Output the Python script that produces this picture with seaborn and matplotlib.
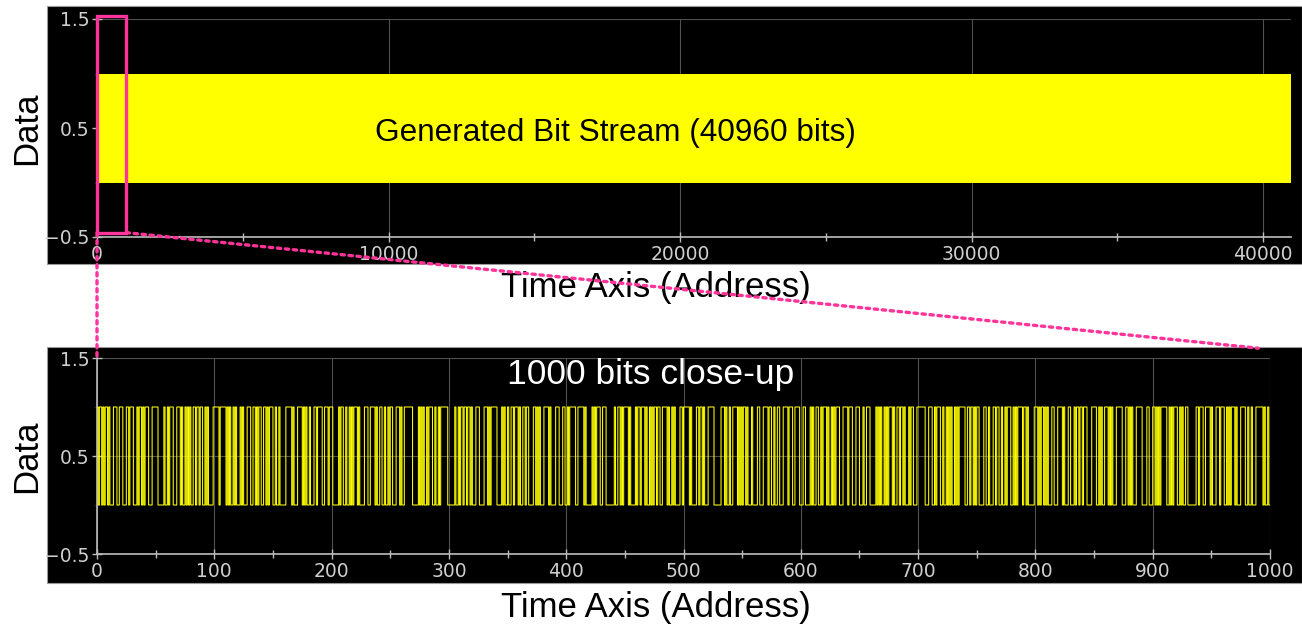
import numpy as np
import matplotlib
matplotlib.use("Agg")
import matplotlib.pyplot as plt
from matplotlib.patches import Rectangle, ConnectionPatch
from matplotlib.ticker import MultipleLocator
import seaborn as sns

sns.set_style("white")
plt.rcParams["font.family"] = ["Liberation Sans", "DejaVu Sans"]
plt.rcParams["text.color"] = "black"

# ---- data -------------------------------------------------------------
# full stream: at this scale every address carries both levels, so it is
# drawn as its low/high envelope
stream_x = [0, 40960]
stream_low = [0, 0]
stream_high = [1, 1]

# first 1000 bits of the stream, packed as hex nibbles
closeup_hex = (
    "B5A39C6E2D71F04B8E9536CA1F7D4A28E6B35C907D1EA46F3B"
    "82C95D0E7A64B1D3F82A5C97E04B6D1C3AF8526E9B0D47A1C6"
    "5F3E82B9C04D7A16E95B3D286FA1B47C0E93D5A218F64C7B9E"
    "30A65D2B8F71C4E0A95D368B1FC72E4A95F36B0C8D92E57B41"
    "D6A31E8C5B70F29D47C6A3E18D5F2B94C06E7A3B95D1E48FD2"
)
closeup_bits = [int(b) for h in closeup_hex for b in f"{int(h, 16):04b}"]

top_xticks = [0, 10000, 20000, 30000, 40000]
bottom_xticks = [0, 100, 200, 300, 400, 500, 600, 700, 800, 900, 1000]
yticks = [-0.5, 0.5, 1.5]
ytick_labels = ["\u22120.5", "0.5", "1.5"]

# ---- figure -----------------------------------------------------------
W, H = 1302, 626
fig = plt.figure(figsize=(W / 100, H / 100), dpi=100)
fig.patch.set_facecolor("white")

def fx(px):
    return px / W

def fy(py):
    return 1 - py / H

# black panels behind each plot (they hold the tick labels too)
for top_px, bot_px in [(6, 264), (347, 583)]:
    fig.add_artist(Rectangle((fx(47), fy(bot_px)), fx(W - 47), fy(top_px) - fy(bot_px),
                             transform=fig.transFigure, facecolor="black",
                             edgecolor="#9a9a9a", linewidth=0.8, zorder=-5))

ax1 = fig.add_axes([fx(97), fy(237), fx(1291 - 97), fy(19) - fy(237)])
ax2 = fig.add_axes([fx(97), fy(554), fx(1270 - 97), fy(358) - fy(554)])

YELLOW = "#ffff00"
AX_COL = "#bdbdbd"
GRID_COL = "#505050"
LABEL_COL = "#cfcfcf"

def style_axes(ax, xmax, minor, xticks):
    ax.set_facecolor("black")
    ax.set_xlim(0, xmax)
    ax.set_ylim(-0.5, 1.5)
    ax.set_xticks(xticks)
    ax.set_xticklabels([str(t) for t in xticks])
    ax.xaxis.set_minor_locator(MultipleLocator(minor))
    ax.set_yticks(yticks)
    ax.set_yticklabels(ytick_labels)
    ax.yaxis.set_minor_locator(MultipleLocator(0.5))
    ax.grid(True, which="major", color=GRID_COL, linewidth=0.8)
    ax.set_axisbelow(True)
    for s in ["top", "right"]:
        ax.spines[s].set_visible(False)
    for s in ["left", "bottom"]:
        ax.spines[s].set_color(AX_COL)
        ax.spines[s].set_linewidth(1.2)
    ax.tick_params(axis="both", which="major", direction="inout", length=7, width=1,
                   color=AX_COL, labelcolor=LABEL_COL, labelsize=13.5, pad=2,
                   bottom=True, left=True)
    ax.tick_params(axis="x", which="minor", direction="inout", length=6, width=1,
                   color=AX_COL, bottom=True)
    ax.tick_params(axis="y", which="minor", direction="inout", length=5, width=1,
                   color="#1a1a40", left=True)
    for lab in ax.get_xticklabels() + ax.get_yticklabels():
        lab.set_family("DejaVu Sans")
    ax.set_xlabel("")
    ax.set_ylabel("")

# top: whole stream
ax1.fill_between(stream_x, stream_low, stream_high, color=YELLOW, linewidth=0, zorder=2)
style_axes(ax1, 40960, 5000, top_xticks)
ax1.text(17770, 0.455, "Generated Bit Stream (40960 bits)",
         color="black", fontsize=22.7, ha="center", va="center", zorder=5)

# bottom: close-up of the first 1000 bits as a square wave
addr = np.arange(len(closeup_bits) + 1)
levels = closeup_bits + [closeup_bits[-1]]
sns.lineplot(x=addr, y=levels, ax=ax2, drawstyle="steps-post", color=YELLOW,
             linewidth=0.75, estimator=None, sort=False, zorder=3)
style_axes(ax2, 1000, 50, bottom_xticks)
ax2.text(472, 1.33, "1000 bits close-up", color="white", fontsize=25.5,
         ha="center", va="center", zorder=5)

# axis titles on the white margin
for yc in (fy(128), fy(456)):
    fig.text(fx(27), yc, "Data", rotation=90, fontsize=25, ha="center", va="center")
for yc in (fy(287), fy(608)):
    fig.text(0.504, yc, "Time Axis (Address)", fontsize=25, ha="center", va="center")

# zoom marker: box over the first 1000 addresses, joined to the close-up
PINK = "#ff3399"
ax1.add_patch(Rectangle((0, -0.46), 1000, 1.99, fill=False, edgecolor=PINK,
                        linewidth=2.4, zorder=6, clip_on=False))
for (xa, ya), (xb, yb) in [((0, -0.46), (0, 1.5)), ((1000, -0.46), (990, 1.6))]:
    con = ConnectionPatch(xyA=(xa, ya), coordsA=ax1.transData,
                          xyB=(xb, yb), coordsB=ax2.transData,
                          color=PINK, linewidth=2.4, linestyle=(0, (1, 1.4)),
                          zorder=10)
    fig.add_artist(con)

fig.savefig("out.png", dpi=100, facecolor="white")
